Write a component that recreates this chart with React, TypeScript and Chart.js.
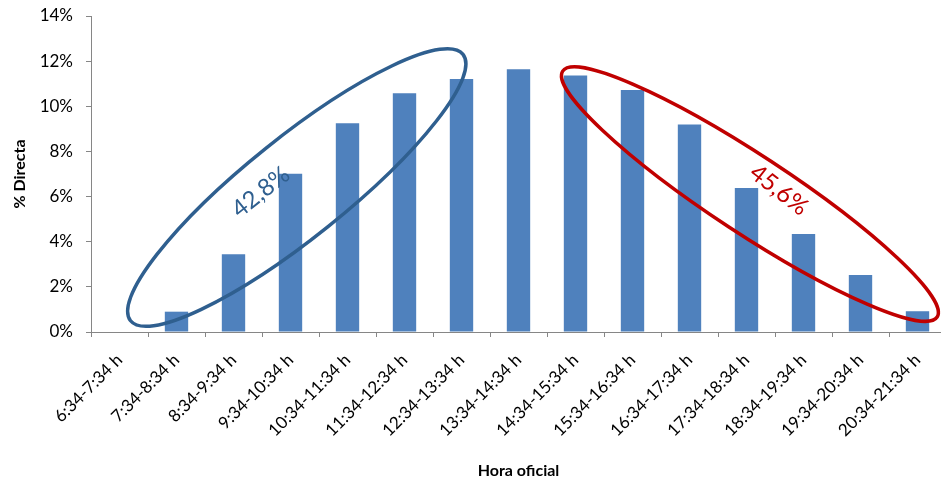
import React, { useEffect, useRef } from "react";
import { Chart, registerables } from "chart.js";

Chart.register(...registerables);

const categories = [
  "6:34-7:34 h", "7:34-8:34 h", "8:34-9:34 h", "9:34-10:34 h", "10:34-11:34 h",
  "11:34-12:34 h", "12:34-13:34 h", "13:34-14:34 h", "14:34-15:34 h", "15:34-16:34 h",
  "16:34-17:34 h", "17:34-18:34 h", "18:34-19:34 h", "19:34-20:34 h", "20:34-21:34 h",
];
const directa = [0, 0.9, 3.44, 7.01, 9.25, 10.58, 11.21, 11.64, 11.36, 10.72, 9.19, 6.38, 4.34, 2.53, 0.92];
const yTicks = [0, 2, 4, 6, 8, 10, 12, 14];

// annotation groups: ellipse centre in (category index, value) units
const groupLabels = ["42,8%", "45,6%"];
const groupCenters = [
  { x: 3.11, y: 6.4 },
  { x: 11.06, y: 6.11 },
];
const groupTextPos = [
  { x: 2.48, y: 6.2 },
  { x: 11.57, y: 6.29 },
];

const ellipseStyle = [
  { color: "#2F5F8F", a: 213, b: 50, angle: -38.7, textAngle: -38.5, width: 3.5 },
  { color: "#C00000", a: 224, b: 39, angle: 33.3, textAngle: 38, width: 3.5 },
];

const groupsPlugin = {
  id: "groups",
  afterDatasetsDraw(chart: any) {
    const { ctx } = chart;
    const xs = chart.scales.x;
    const ys = chart.scales.y;
    groupCenters.forEach((c, i) => {
      const st = ellipseStyle[i];
      const cx = xs.getPixelForValue(c.x);
      const cy = ys.getPixelForValue(c.y);
      ctx.save();
      ctx.beginPath();
      ctx.ellipse(cx, cy, st.a, st.b, (st.angle * Math.PI) / 180, 0, Math.PI * 2);
      ctx.strokeStyle = st.color;
      ctx.lineWidth = st.width;
      ctx.stroke();
      const t = groupTextPos[i];
      const tx = xs.getPixelForValue(t.x);
      const ty = ys.getPixelForValue(t.y);
      ctx.translate(tx, ty);
      ctx.rotate((st.textAngle * Math.PI) / 180);
      ctx.fillStyle = st.color;
      ctx.font = "24px Lato";
      ctx.textAlign = "center";
      ctx.textBaseline = "middle";
      ctx.fillText(groupLabels[i], 0, 0);
      ctx.restore();
    });
  },
};

export default function App() {
  const ref = useRef<HTMLCanvasElement>(null);
  useEffect(() => {
    if (!ref.current) return;
    const chart = new Chart(ref.current, {
      type: "bar",
      data: {
        labels: categories,
        datasets: [
          {
            label: "% Directa",
            data: directa,
            backgroundColor: "#4F81BD",
            categoryPercentage: 1,
            barPercentage: 0.41,
          },
        ],
      },
      options: {
        animation: false,
        responsive: false,
        layout: { padding: { top: 16, right: 14, left: 0, bottom: 0 } },
        plugins: { legend: { display: false }, tooltip: { enabled: false } },
        scales: {
          x: {
            offset: true,
            grid: { display: true, drawOnChartArea: false, drawTicks: true, tickLength: 5, color: "#868686", offset: true },
            border: { display: true, color: "#868686", width: 1 },
            ticks: {
              autoSkip: false,
              maxRotation: 45,
              minRotation: 45,
              padding: 13,
              color: "#000",
              font: { family: "Lato", size: 17 },
            },
            title: {
              display: true,
              text: "Hora oficial",
              color: "#000",
              font: { family: "Lato", size: 16, weight: "bold" },
              padding: { top: 1, bottom: 0 },
            },
            afterFit(scale: any) {
              scale.height = 148;
            },
          },
          y: {
            min: 0,
            max: 14,
            afterBuildTicks(scale: any) {
              scale.ticks = yTicks.map((v) => ({ value: v }));
            },
            grid: { display: true, drawOnChartArea: false, drawTicks: true, tickLength: 5, color: "#868686" },
            border: { display: true, color: "#868686", width: 1 },
            ticks: {
              padding: 13,
              color: "#000",
              font: { family: "Lato", size: 17 },
              callback: (v: any) => v + "%",
            },
            title: {
              display: true,
              text: "% Directa",
              color: "#000",
              font: { family: "Lato", size: 16, weight: "bold" },
              padding: { top: 10, bottom: 0 },
            },
            afterFit(scale: any) {
              scale.width = 91;
              scale.paddingTop = 0;
              scale.paddingBottom = 0;
            },
          },
        },
      },
      plugins: [groupsPlugin],
    });
    return () => chart.destroy();
  }, []);
  return (
    <div style={{ position: "fixed", left: 0, top: 0, width: 941, height: 480, overflow: "hidden", background: "#fff" }}>
      <canvas ref={ref} width={960} height={480} style={{ display: "block" }} />
    </div>
  );
}
